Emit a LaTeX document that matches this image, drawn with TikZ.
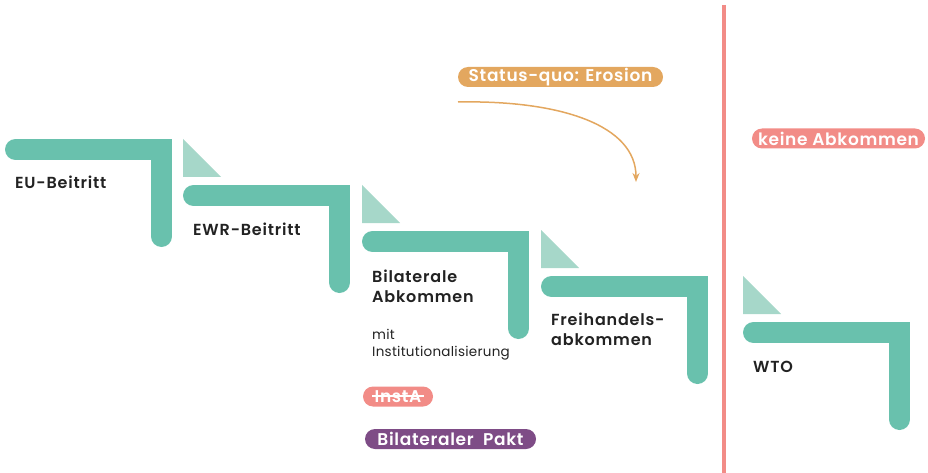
\documentclass[tikz,border=0pt]{standalone}
\usepackage{fontspec}
\setmainfont{Poppins}[BoldFont={Poppins SemiBold}]
\usetikzlibrary{arrows.meta}
\definecolor{teal}{HTML}{69C1AD}
\definecolor{lteal}{HTML}{A6D7C9}
\definecolor{salmon}{HTML}{F28C87}
\definecolor{ora}{HTML}{E3A75F}
\definecolor{purp}{HTML}{7E4C86}
\definecolor{ink}{HTML}{222222}
\begin{document}
\begin{tikzpicture}[x=1pt,y=-1pt,
  stair/.style={draw=teal,line width=21pt,line cap=round,line join=miter},
  tri/.style={fill=lteal},
  lbl/.style={anchor=base west,inner sep=0pt,align=left,text=ink,font=\fontsize{16}{19.5}\selectfont\bfseries\addfontfeatures{LetterSpace=5}},
  small/.style={anchor=base west,inner sep=0pt,align=left,text=ink,font=\fontsize{13.5}{16.5}\selectfont\addfontfeatures{LetterSpace=2}},
  pill/.style={rounded corners=10pt,text=white,inner sep=0pt,minimum height=20pt,font=\fontsize{17}{17}\selectfont\bfseries\addfontfeatures{LetterSpace=4}}
]
\useasboundingbox (0,0) rectangle (928,473);
% stairs
\foreach \L/\T [count=\i] in {5/139,183/185,362/231,541/276,743/322}{
  \coordinate (s\i) at (\L,\T);
  \draw[stair] (\L+10.5,\T+10.5) -- (\L+156.5,\T+10.5) -- (\L+156.5,\T+97.5);
}
\foreach \L/\T in {183/185,362/231,541/276,743/322}{
  \fill[tri] (\L,\T-46) -- (\L,\T-8) -- (\L+38,\T-8) -- cycle;
}
% labels
\node[lbl] (eu) at (15,189) {EU-Beitritt};
\node[lbl] (ewr) at (193,235) {EWR-Beitritt};
\node[lbl] (bil) at (372,302) {Bilaterale\\Abkommen};
\node[small] (mit) at (372,356) {mit\\Institutionalisierung};
\node[lbl] (fh) at (551,345) {Freihandels-\\abkommen};
\node[lbl] (wto) at (753,372) {WTO};
% divider
\coordinate (d1) at (724,5);
\coordinate (d2) at (724,473);
\draw[salmon,line width=4pt] (d1) -- (d2);
% pills
\node[pill,fill=ora,minimum width=205pt] (sq) at (560.5,77) {Status-quo: Erosion};
\node[pill,fill=salmon,minimum width=173pt] (ka) at (838.5,138.5) {keine Abkommen};
\node[pill,fill=salmon,minimum width=70pt] (insta) at (398,396.5) {InstA};
\draw[white,line width=1.3pt] (372,396) -- (424,396);
\node[pill,fill=purp,minimum width=171pt] (bp) at (450.5,439) {Bilateraler\ \ Pakt};
% arrow
\coordinate (a1) at (458,102);
\coordinate (a2) at (636,182);
\draw[ora,line width=1.5pt,-{Stealth[length=9pt,width=7pt]}] (a1) .. controls (560,100) and (636,125) .. (a2);
\end{tikzpicture}
\end{document}
